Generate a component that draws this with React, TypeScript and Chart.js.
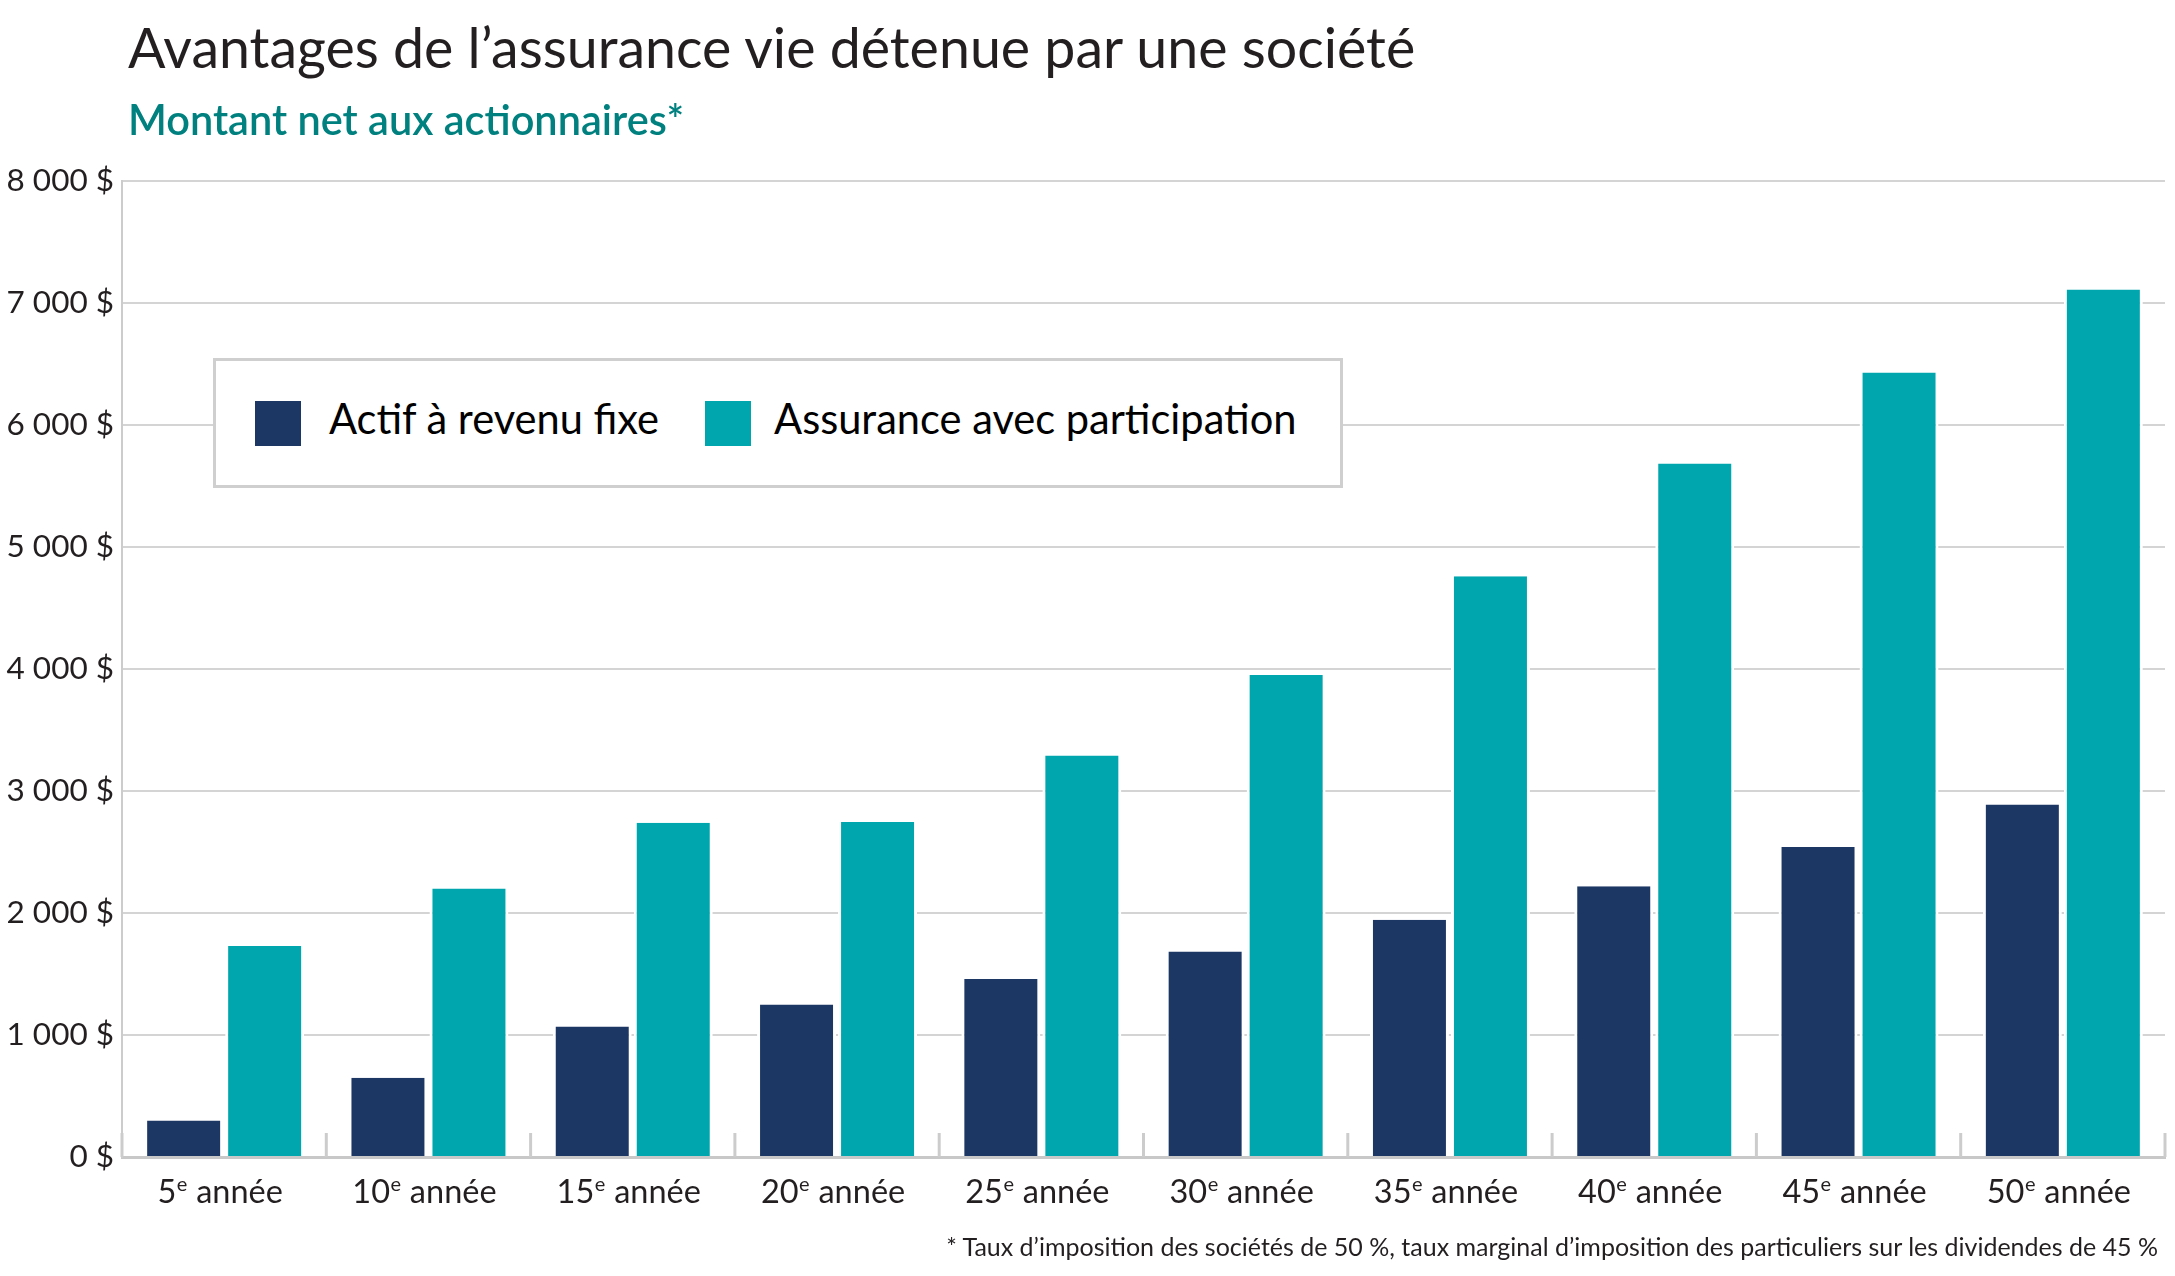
import React, { useEffect, useRef } from 'react';
import { Chart, registerables } from 'chart.js';

Chart.register(...registerables);

const years = ['5', '10', '15', '20', '25', '30', '35', '40', '45', '50'];
const categories = years.map((y) => `${y}e année`);
const fixedIncome = [300, 650, 1070, 1250, 1460, 1685, 1945, 2220, 2540, 2890];
const participating = [1730, 2200, 2740, 2745, 3290, 3950, 4760, 5685, 6430, 7110];
const seriesNames = ['Actif à revenu fixe', 'Assurance avec participation'];
const seriesColors = ['#1d3765', '#00a6ae'];
const yMin = 0;
const yMax = 8000;
const yStep = 1000;

const titleText = 'Avantages de l’assurance vie détenue par une société';
const subtitleText = 'Montant net aux actionnaires*';
const footnoteText =
  '* Taux d’imposition des sociétés de 50 %, taux marginal d’imposition des particuliers sur les dividendes de 45 %';

const FONT = 'Lato, "Noto Sans", sans-serif';
const INK = '#231f20';

const fmtMoney = (v: number) =>
  String(v).replace(/\B(?=(\d{3})+(?!\d))/g, ' ') + ' $';

const xDecor = {
  id: 'xDecor',
  afterDraw(chart: any) {
    const { ctx, chartArea, scales } = chart;
    const x = scales.x;
    const labels: string[] = chart.data.labels;
    const n = labels.length;
    const step = n > 1 ? x.getPixelForValue(1) - x.getPixelForValue(0) : chartArea.right - chartArea.left;
    ctx.save();
    ctx.strokeStyle = '#cccccc';
    ctx.lineWidth = 3;
    for (let i = 0; i <= n; i++) {
      const px = x.getPixelForValue(0) + (i - 0.5) * step;
      ctx.beginPath();
      ctx.moveTo(px, chartArea.bottom - 24);
      ctx.lineTo(px, chartArea.bottom);
      ctx.stroke();
    }
    ctx.fillStyle = INK;
    ctx.textBaseline = 'alphabetic';
    ctx.textAlign = 'left';
    const base = chartArea.bottom + 46;
    const mainFont = `32.5px ${FONT}`;
    const supFont = `20px ${FONT}`;
    labels.forEach((lab, i) => {
      const m = /^(\d+)(e)(.*)$/.exec(lab);
      const num = m ? m[1] : lab;
      const sup = m ? m[2] : '';
      const rest = m ? m[3] : '';
      ctx.font = mainFont;
      const wNum = ctx.measureText(num).width;
      const wRest = ctx.measureText(rest).width;
      ctx.font = supFont;
      const wSup = ctx.measureText(sup).width;
      const total = wNum + wSup + 1 + wRest;
      const cx = x.getPixelForValue(i) - 4;
      let sx = cx - total / 2;
      ctx.font = mainFont;
      ctx.fillText(num, sx, base);
      sx += wNum;
      ctx.font = supFont;
      ctx.fillText(sup, sx + 0.5, base - 12);
      sx += wSup + 1;
      ctx.font = mainFont;
      ctx.fillText(rest, sx, base);
    });
    ctx.restore();
  },
};

export default function App() {
  const canvasRef = useRef<HTMLCanvasElement | null>(null);

  useEffect(() => {
    const canvas = canvasRef.current;
    if (!canvas) return;
    const chart = new Chart(canvas, {
      type: 'bar',
      data: {
        labels: categories,
        datasets: [
          {
            label: seriesNames[0],
            data: fixedIncome,
            backgroundColor: seriesColors[0],
            borderColor: '#ffffff',
            borderWidth: { left: 3, right: 3, top: 0, bottom: 0 },
            borderSkipped: 'start',
            barPercentage: 0.975,
            categoryPercentage: 0.793,
          },
          {
            label: seriesNames[1],
            data: participating,
            backgroundColor: seriesColors[1],
            borderColor: '#ffffff',
            borderWidth: { left: 3, right: 3, top: 0, bottom: 0 },
            borderSkipped: 'start',
            barPercentage: 0.975,
            categoryPercentage: 0.793,
          },
        ],
      },
      options: {
        responsive: false,
        animation: false,
        devicePixelRatio: 1,
        layout: { padding: { left: 0, top: 181, right: 10, bottom: 0 } },
        plugins: {
          legend: { display: false },
          title: { display: false },
          tooltip: { enabled: false },
        },
        scales: {
          x: {
            type: 'category',
            offset: true,
            grid: { display: false },
            border: { display: true, color: '#c8c8c8', width: 3 },
            ticks: { display: false },
            afterFit: (s: any) => {
              s.height = 119;
            },
          },
          y: {
            min: yMin,
            max: yMax,
            ticks: {
              stepSize: yStep,
              color: INK,
              font: { family: FONT, size: 31.5 },
              padding: 8,
              callback: (v: any) => fmtMoney(Number(v)),
            },
            grid: { color: '#d4d4d4', lineWidth: 2, drawTicks: false },
            border: { display: true, color: '#cccccc', width: 2 },
            afterFit: (s: any) => {
              s.width = 122;
            },
          },
        },
      },
      plugins: [xDecor],
    });
    return () => chart.destroy();
  }, []);

  const legendItems = [
    { sq: 255, tx: 329 },
    { sq: 705, tx: 774 },
  ];

  return (
    <div
      style={{
        position: 'absolute',
        left: 0,
        top: 0,
        width: 2175,
        height: 1276,
        background: '#ffffff',
        fontFamily: FONT,
        color: INK,
        overflow: 'hidden',
      }}
    >
      <canvas ref={canvasRef} width={2175} height={1276} style={{ position: 'absolute', left: 0, top: 0 }} />
      <div
        style={{
          position: 'absolute',
          left: 128,
          top: 19,
          fontSize: 55.5,
          lineHeight: 1,
          whiteSpace: 'nowrap',
          color: INK,
        }}
      >
        {titleText}
      </div>
      <div
        style={{
          position: 'absolute',
          left: 128,
          top: 99,
          fontSize: 41.5,
          lineHeight: 1,
          fontWeight: 600,
          whiteSpace: 'nowrap',
          color: '#00817f',
        }}
      >
        {subtitleText}
      </div>
      <div
        style={{
          position: 'absolute',
          left: 213,
          top: 358,
          width: 1130,
          height: 130,
          boxSizing: 'border-box',
          border: '3px solid #cfcfcf',
          background: '#ffffff',
        }}
      />
      {seriesNames.map((name, i) => (
        <React.Fragment key={name}>
          <div
            style={{
              position: 'absolute',
              left: legendItems[i].sq,
              top: 401,
              width: 46,
              height: 45,
              background: seriesColors[i],
            }}
          />
          <div
            style={{
              position: 'absolute',
              left: legendItems[i].tx,
              top: 398,
              fontSize: 41.6,
              lineHeight: 1,
              whiteSpace: 'nowrap',
              color: '#000000',
            }}
          >
            {name}
          </div>
        </React.Fragment>
      ))}
      <div
        style={{
          position: 'absolute',
          right: 2175 - 2158,
          top: 1234,
          fontSize: 25,
          lineHeight: 1,
          whiteSpace: 'nowrap',
          color: INK,
        }}
      >
        {footnoteText}
      </div>
    </div>
  );
}
